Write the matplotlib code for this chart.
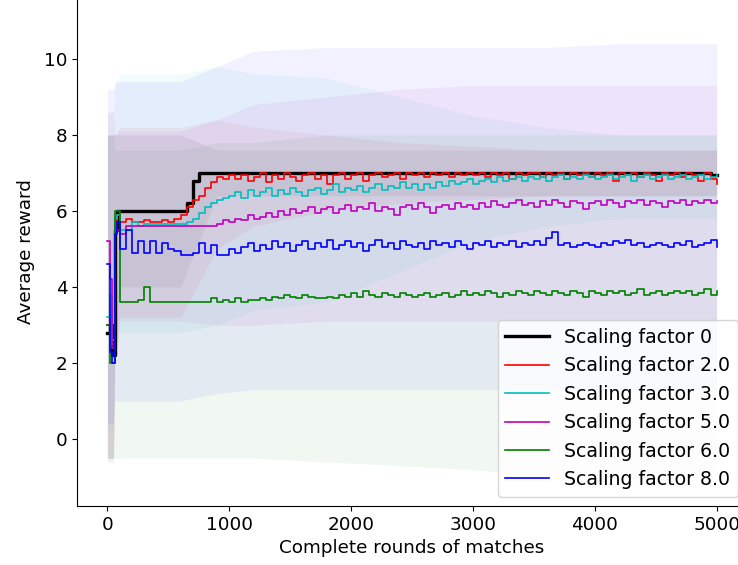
import matplotlib
matplotlib.use("Agg")
import matplotlib.pyplot as plt

# x grid (rounds) for the mean curves: 0-100, then every 50 rounds
rounds = [0, 20, 40, 60, 80, 100] + list(range(150, 5001, 50))

labels = ["Scaling factor 0", "Scaling factor 2.0", "Scaling factor 3.0",
          "Scaling factor 5.0", "Scaling factor 6.0", "Scaling factor 8.0"]
colors = ["k", "r", "c", "m", "g", "b"]

# rows: 0-100 | 150-600 | 650-1100 | ... | 4150-4600 | 4650-5000
sf0 = [2.8, 3.0, 2.2, 5.5, 6.0, 6.0,
       6.0, 6.0, 6.0, 6.0, 6.0, 6.0, 6.0, 6.0, 6.0, 6.0,
       6.2, 6.8, 7.0, 7.0, 7.0, 7.0, 7.0, 7.0, 7.0, 7.0,
       7.0, 7.0, 7.0, 7.0, 7.0, 7.0, 7.0, 7.0, 7.0, 7.0,
       7.0, 7.0, 7.0, 7.0, 7.0, 7.0, 7.0, 7.0, 7.0, 7.0,
       7.0, 7.0, 7.0, 7.0, 7.0, 7.0, 7.0, 7.0, 7.0, 7.0,
       7.0, 7.0, 7.0, 7.0, 7.0, 7.0, 7.0, 7.0, 7.0, 7.0,
       7.0, 7.0, 7.0, 7.0, 7.0, 7.0, 7.0, 7.0, 7.0, 7.0,
       7.0, 7.0, 7.0, 7.0, 7.0, 7.0, 7.0, 7.0, 7.0, 7.0,
       7.0, 7.0, 7.0, 7.0, 7.0, 7.0, 7.0, 7.0, 7.0, 7.0,
       7.0, 7.0, 7.0, 7.0, 7.0, 7.0, 6.95, 6.95]

sf2 = [3.0, 3.5, 2.5, 5.6, 5.9, 5.7,
       5.8, 5.7, 5.7, 5.75, 5.7, 5.7, 5.75, 5.7, 5.8, 5.9,
       6.1, 6.3, 6.4, 6.6, 6.75, 6.9, 6.85, 6.95, 6.85, 6.95,
       6.8, 6.9, 7.0, 6.75, 6.95, 6.85, 7.0, 6.9, 6.8, 6.95,
       7.0, 6.85, 6.95, 6.7, 6.95, 7.0, 6.85, 6.95, 7.0, 6.8,
       6.95, 7.0, 6.9, 6.95, 7.0, 6.85, 7.0, 6.95, 7.0, 6.9,
       7.0, 6.95, 7.0, 6.9, 7.0, 6.95, 7.0, 6.95, 7.0, 6.9,
       7.0, 6.95, 7.0, 6.85, 7.0, 6.95, 7.0, 7.0, 6.9, 7.0,
       6.95, 7.0, 6.85, 7.0, 6.95, 7.0, 6.9, 7.0, 6.95, 7.0,
       6.8, 7.0, 6.95, 7.0, 6.9, 7.0, 6.95, 6.8, 7.0, 6.95,
       7.0, 6.9, 7.0, 6.95, 6.8, 7.0, 6.85, 6.7]

sf3 = [3.2, 3.8, 2.6, 5.8, 5.9, 5.5,
       5.5, 5.7, 5.6, 5.65, 5.65, 5.65, 5.65, 5.65, 5.65, 5.65,
       5.7, 5.8, 5.95, 6.1, 6.2, 6.3, 6.35, 6.4, 6.5, 6.35,
       6.55, 6.4, 6.5, 6.6, 6.4, 6.55, 6.45, 6.6, 6.5, 6.4,
       6.55, 6.6, 6.45, 6.55, 6.7, 6.5, 6.6, 6.55, 6.65, 6.5,
       6.6, 6.7, 6.55, 6.65, 6.6, 6.75, 6.6, 6.7, 6.55, 6.7,
       6.6, 6.75, 6.65, 6.8, 6.7, 6.75, 6.85, 6.7, 6.8, 6.85,
       6.75, 6.9, 6.8, 6.85, 6.9, 6.8, 6.9, 6.85, 6.9, 6.8,
       6.9, 6.95, 6.85, 6.9, 6.85, 6.95, 6.9, 6.85, 6.9, 6.95,
       6.85, 6.9, 6.95, 6.8, 6.9, 6.95, 6.85, 6.9, 6.95, 6.85,
       6.9, 6.95, 6.85, 6.9, 6.95, 6.85, 6.9, 6.95]

sf5 = [5.2, 4.2, 2.4, 5.6, 5.5, 5.4,
       5.6, 5.6, 5.6, 5.6, 5.6, 5.6, 5.6, 5.6, 5.6, 5.6,
       5.6, 5.6, 5.6, 5.6, 5.6, 5.65, 5.75, 5.7, 5.8, 5.75,
       5.9, 5.8, 5.85, 5.95, 5.85, 6.0, 5.9, 6.05, 5.95, 6.0,
       6.1, 5.95, 6.05, 6.1, 5.95, 6.05, 6.15, 6.0, 6.1, 6.05,
       6.2, 6.0, 6.1, 6.05, 5.9, 6.1, 6.15, 6.05, 6.2, 6.1,
       5.95, 6.1, 6.15, 6.05, 6.2, 6.1, 6.15, 6.05, 6.2, 6.1,
       6.25, 6.15, 6.1, 6.2, 6.3, 6.15, 6.2, 6.1, 6.25, 6.15,
       6.3, 6.2, 6.1, 6.25, 6.2, 6.05, 6.2, 6.25, 6.15, 6.3,
       6.2, 6.1, 6.25, 6.2, 6.3, 6.15, 6.25, 6.2, 6.1, 6.25,
       6.2, 6.3, 6.15, 6.25, 6.2, 6.3, 6.2, 6.25]

sf6 = [3.0, 2.0, 2.0, 6.0, 6.0, 3.6,
       3.6, 3.6, 3.65, 4.0, 3.6, 3.6, 3.6, 3.6, 3.6, 3.6,
       3.6, 3.6, 3.6, 3.6, 3.7, 3.6, 3.65, 3.6, 3.7, 3.6,
       3.65, 3.65, 3.7, 3.65, 3.75, 3.7, 3.8, 3.75, 3.7, 3.8,
       3.75, 3.7, 3.7, 3.75, 3.7, 3.8, 3.75, 3.85, 3.75, 3.9,
       3.8, 3.75, 3.85, 3.8, 3.75, 3.85, 3.8, 3.75, 3.8, 3.85,
       3.75, 3.8, 3.85, 3.75, 3.8, 3.9, 3.8, 3.85, 3.8, 3.9,
       3.85, 3.75, 3.85, 3.8, 3.9, 3.85, 3.8, 3.9, 3.85, 3.8,
       3.9, 3.85, 3.8, 3.9, 3.85, 3.75, 3.9, 3.85, 3.8, 3.9,
       3.85, 3.9, 3.8, 3.85, 3.95, 3.8, 3.85, 3.9, 3.8, 3.85,
       3.9, 3.85, 3.9, 3.8, 3.85, 3.95, 3.8, 3.9]

sf8 = [4.6, 2.3, 2.0, 5.4, 5.7, 5.0,
       5.5, 4.9, 5.2, 4.9, 5.2, 4.9, 5.15, 5.0, 4.95, 4.85,
       4.85, 4.9, 5.15, 4.9, 5.1, 4.85, 4.85, 5.0, 4.9, 5.05,
       5.15, 4.95, 5.1, 5.0, 5.2, 5.05, 5.15, 4.95, 5.1, 5.2,
       5.0, 5.15, 5.05, 5.25, 5.0, 5.1, 5.2, 5.05, 5.15, 4.95,
       5.1, 5.25, 5.05, 5.15, 5.0, 5.2, 5.1, 5.05, 5.15, 5.0,
       5.2, 5.1, 5.15, 5.05, 5.2, 5.1, 5.0, 5.15, 5.1, 5.2,
       5.05, 5.15, 5.1, 5.2, 5.05, 5.15, 5.1, 5.2, 5.1, 5.3,
       5.45, 5.1, 5.15, 5.05, 5.1, 5.15, 5.1, 5.05, 5.15, 5.1,
       5.2, 5.15, 5.25, 5.1, 5.15, 5.05, 5.1, 5.15, 5.1, 5.05,
       5.15, 5.1, 5.2, 5.05, 5.1, 5.15, 5.25, 5.05]

# spread bands (mean +/- std), read on a coarse grid
band_x = [0, 50, 60, 100, 300, 600, 900, 1200, 1800, 2400, 3000, 3600, 4200, 5000]
up0 = [8.6, 8.6, 8.0, 8.0, 8.0, 8.0, 7.6, 7.6, 7.6, 7.6, 7.6, 7.6, 7.6, 7.6]
lo0 = [-0.6, -0.6, 2.0, 4.0, 4.0, 4.0, 6.4, 6.4, 6.4, 6.4, 6.4, 6.4, 6.4, 6.4]
up2 = [8.0, 8.0, 8.0, 8.2, 8.2, 8.2, 8.4, 8.2, 8.0, 7.8, 7.7, 7.6, 7.6, 7.6]
lo2 = [-0.5, -0.5, 2.0, 3.2, 3.2, 3.2, 5.0, 5.6, 6.0, 6.2, 6.3, 6.4, 6.4, 6.4]
up3 = [8.0, 8.0, 9.2, 9.6, 9.6, 9.6, 9.8, 9.6, 9.5, 9.0, 8.5, 8.2, 8.0, 8.0]
lo3 = [-0.5, -0.5, 2.0, 2.8, 2.8, 2.8, 3.0, 3.4, 3.6, 4.4, 5.2, 5.6, 5.8, 5.8]
up5 = [8.0, 8.0, 8.0, 8.1, 8.1, 8.1, 8.4, 8.8, 9.0, 9.2, 9.3, 9.3, 9.3, 9.3]
lo5 = [-0.5, -0.5, 2.0, 3.1, 3.1, 3.1, 3.0, 3.0, 3.1, 3.1, 3.1, 3.1, 3.1, 3.1]
up6 = [8.0, 8.0, 7.6, 7.6, 7.6, 7.6, 7.8, 7.8, 8.0, 8.0, 8.0, 8.0, 8.0, 8.0]
lo6 = [-0.5, -0.5, -0.5, -0.5, -0.5, -0.5, -0.5, -0.5, -0.6, -0.7, -0.8, -1.0, -1.1, -1.1]
up8 = [9.2, 9.2, 9.4, 9.4, 9.4, 9.4, 9.8, 10.2, 10.3, 10.3, 10.3, 10.3, 10.4, 10.4]
lo8 = [0.4, 0.4, 1.0, 1.0, 1.0, 1.0, 1.2, 1.3, 1.3, 1.3, 1.3, 1.3, 1.3, 1.3]

means = [sf0, sf2, sf3, sf5, sf6, sf8]
uppers = [up0, up2, up3, up5, up6, up8]
lowers = [lo0, lo2, lo3, lo5, lo6, lo8]

plt.rcParams["font.size"] = 13.2

fig = plt.figure(figsize=(7.38, 5.65), dpi=100)
ax = fig.add_axes([0.1043, 0.1044, 0.908, 0.899])

for up, lo, c in zip(uppers, lowers, colors):
    ax.fill_between(band_x, lo, up, color=c, alpha=0.055, linewidth=0)

for y, c, lab in zip(means, colors, labels):
    lw = 2.4 if c == "k" else 1.2
    ax.plot(rounds, y, color=c, lw=lw, label=lab, drawstyle="steps-post")

ax.set_xlim(-250, 5250)
ax.set_ylim(-1.76, 11.6)
ax.set_xticks([0, 1000, 2000, 3000, 4000, 5000])
ax.set_yticks([0, 2, 4, 6, 8, 10])
ax.set_xlabel("Complete rounds of matches")
ax.set_ylabel("Average reward", labelpad=6)
ax.legend(loc="lower right", fontsize=13.6, handlelength=2.3)

fig.savefig("out.png", dpi=100)
